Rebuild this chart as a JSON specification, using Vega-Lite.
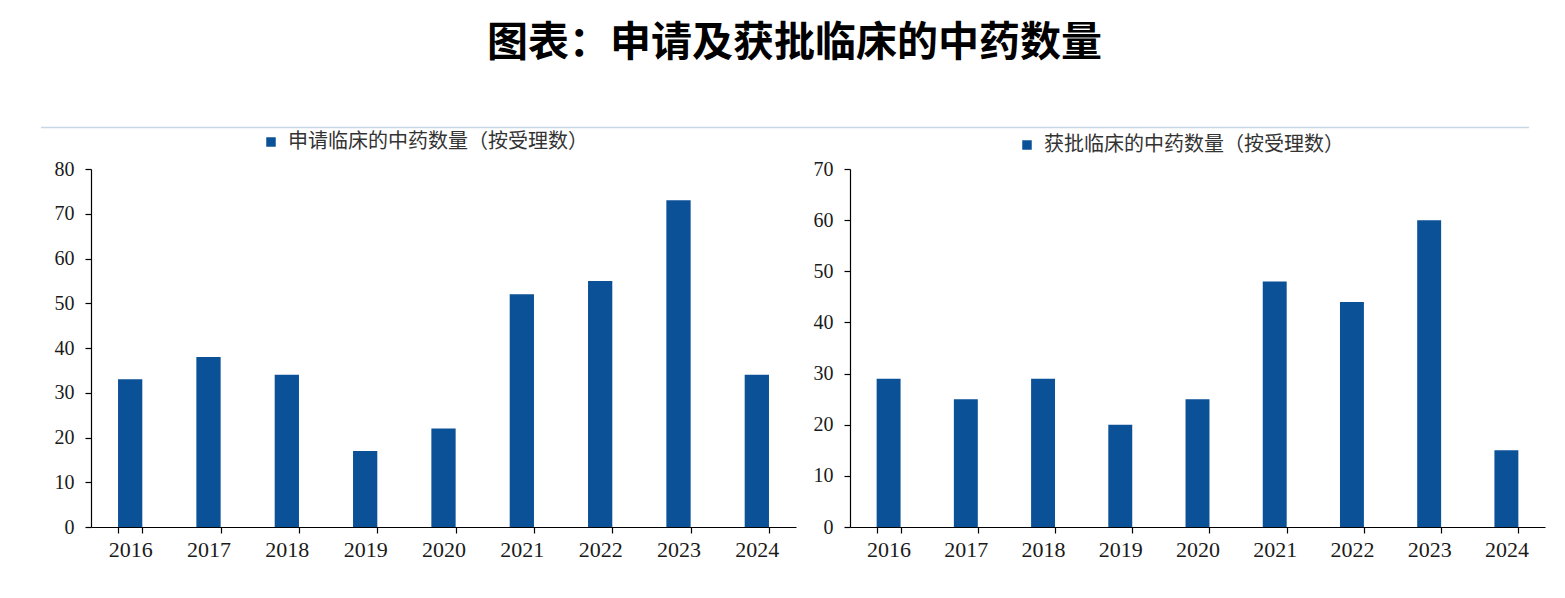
{
  "$schema": "https://vega.github.io/schema/vega-lite/v6.json",
  "background": "white",
  "padding": {"left": 40, "top": 22, "right": 5, "bottom": 5},
  "title": {
    "text": "图表：申请及获批临床的中药数量",
    "font": "Noto Sans CJK SC",
    "fontSize": 41,
    "fontWeight": "bold",
    "color": "#000000",
    "anchor": "middle",
    "dx": 2,
    "offset": 62
  },
  "datasets": {
    "applied": [
      {"year": "2016", "series": "申请临床的中药数量（按受理数）", "count": 33},
      {"year": "2017", "series": "申请临床的中药数量（按受理数）", "count": 38},
      {"year": "2018", "series": "申请临床的中药数量（按受理数）", "count": 34},
      {"year": "2019", "series": "申请临床的中药数量（按受理数）", "count": 17},
      {"year": "2020", "series": "申请临床的中药数量（按受理数）", "count": 22},
      {"year": "2021", "series": "申请临床的中药数量（按受理数）", "count": 52},
      {"year": "2022", "series": "申请临床的中药数量（按受理数）", "count": 55},
      {"year": "2023", "series": "申请临床的中药数量（按受理数）", "count": 73},
      {"year": "2024", "series": "申请临床的中药数量（按受理数）", "count": 34}
    ],
    "approved": [
      {"year": "2016", "series": "获批临床的中药数量（按受理数）", "count": 29},
      {"year": "2017", "series": "获批临床的中药数量（按受理数）", "count": 25},
      {"year": "2018", "series": "获批临床的中药数量（按受理数）", "count": 29},
      {"year": "2019", "series": "获批临床的中药数量（按受理数）", "count": 20},
      {"year": "2020", "series": "获批临床的中药数量（按受理数）", "count": 25},
      {"year": "2021", "series": "获批临床的中药数量（按受理数）", "count": 48},
      {"year": "2022", "series": "获批临床的中药数量（按受理数）", "count": 44},
      {"year": "2023", "series": "获批临床的中药数量（按受理数）", "count": 60},
      {"year": "2024", "series": "获批临床的中药数量（按受理数）", "count": 15}
    ],
    "divider": [{"start": -0.0348, "end": 1}]
  },
  "config": {
    "view": {"stroke": null},
    "axis": {
      "grid": false,
      "domainColor": "#000000",
      "domainWidth": 1.2,
      "ticks": true,
      "tickColor": "#000000",
      "tickWidth": 1.2,
      "tickSize": 6,
      "labelFont": "Liberation Serif",
      "labelColor": "#1a1a1a",
      "title": null
    },
    "legend": {
      "orient": "none",
      "direction": "horizontal",
      "padding": 0,
      "symbolType": "square",
      "symbolSize": 90,
      "symbolStrokeWidth": 0,
      "labelFont": "Noto Sans CJK SC",
      "labelFontSize": 20,
      "labelColor": "#333333",
      "labelOffset": 7,
      "labelLimit": 0,
      "title": null
    }
  },
  "spacing": 3,
  "vconcat": [
    {
      "data": {"name": "divider"},
      "width": 1438,
      "height": 1,
      "mark": {"type": "rule", "color": "#c6d7e6", "strokeWidth": 1.5, "clip": false},
      "encoding": {
        "x": {
          "field": "start",
          "type": "quantitative",
          "scale": {"domain": [0, 1], "clamp": false, "nice": false, "zero": false},
          "axis": null
        },
        "x2": {"field": "end"}
      }
    },
    {
      "spacing": 17,
      "resolve": {
        "scale": {"color": "independent"},
        "legend": {"color": "independent"}
      },
      "hconcat": [
        {
          "data": {"name": "applied"},
          "width": 705,
          "height": 358,
          "mark": {"type": "bar", "color": "#0b5197"},
          "encoding": {
            "x": {
              "field": "year",
              "type": "ordinal",
              "scale": {"paddingInner": 0.69, "paddingOuter": 0.345},
              "axis": {
                "labelAngle": 0,
                "labelFontSize": 22,
                "labelPadding": 6,
                "tickBand": "extent"
              }
            },
            "y": {
              "field": "count",
              "type": "quantitative",
              "scale": {"domain": [0, 80]},
              "axis": {
                "values": [0, 10, 20, 30, 40, 50, 60, 70, 80],
                "labelFontSize": 20,
                "labelPadding": 11
              }
            },
            "color": {
              "field": "series",
              "type": "nominal",
              "scale": {"range": ["#0b5197"]},
              "legend": {"legendX": 170, "legendY": -37}
            }
          }
        },
        {
          "data": {"name": "approved"},
          "width": 695,
          "height": 358,
          "mark": {"type": "bar", "color": "#0b5197"},
          "encoding": {
            "x": {
              "field": "year",
              "type": "ordinal",
              "scale": {"paddingInner": 0.69, "paddingOuter": 0.345},
              "axis": {
                "labelAngle": 0,
                "labelFontSize": 22,
                "labelPadding": 6,
                "tickBand": "extent"
              }
            },
            "y": {
              "field": "count",
              "type": "quantitative",
              "scale": {"domain": [0, 70]},
              "axis": {
                "values": [0, 10, 20, 30, 40, 50, 60, 70],
                "labelFontSize": 20,
                "labelPadding": 11
              }
            },
            "color": {
              "field": "series",
              "type": "nominal",
              "scale": {"range": ["#0b5197"]},
              "legend": {"legendX": 167, "legendY": -34}
            }
          }
        }
      ]
    }
  ]
}
